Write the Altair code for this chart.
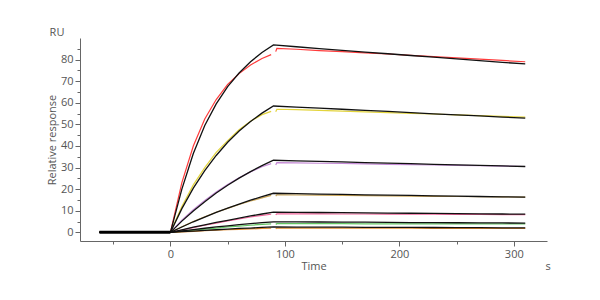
import altair as alt
import pandas as pd

# ---------------- data ----------------
series = ["c1", "c2", "c3", "c4", "c5", "c6", "c7"]
data_colors = ["#ff3b3b", "#e3d43c", "#c58ad6", "#c9a455", "#f0649a", "#62c462", "#e08a2e"]

t_baseline = [-62, 0]
v_baseline = [0, 0]

# fitted curves (black)
t_fit_assoc = [0, 10, 20, 30, 40, 50, 60, 70, 80, 90]
t_fit_diss = [110, 130, 150, 170, 190, 210, 230, 250, 270, 290, 310]
fit_assoc = [
    [0, 20, 36.5, 49.5, 59.5, 67.5, 73.8, 79, 83.3, 86.8],
    [0, 11.0, 20.5, 28.6, 35.6, 41.7, 46.9, 51.3, 55.2, 58.5],
    [0, 5.2, 9.9, 14.2, 18.2, 21.8, 25.1, 28.1, 30.9, 33.4],
    [0, 2.5, 4.9, 7.1, 9.3, 11.2, 13.1, 14.9, 16.5, 18.1],
    [0, 1.2, 2.4, 3.5, 4.6, 5.6, 6.6, 7.6, 8.5, 9.4],
    [0, 0.65, 1.3, 1.9, 2.5, 3.0, 3.6, 4.0, 4.5, 4.9],
    [0, 0.3, 0.6, 0.9, 1.2, 1.5, 1.8, 2.0, 2.3, 2.5],
]
fit_diss = [
    [85.95, 85.1, 84.3, 83.5, 82.7, 81.9, 81.1, 80.3, 79.5, 78.7, 78.0],
    [58.0, 57.5, 57.0, 56.5, 56.0, 55.4, 54.9, 54.4, 53.9, 53.4, 52.9],
    [33.1, 32.85, 32.6, 32.3, 32.05, 31.8, 31.5, 31.25, 31.0, 30.75, 30.5],
    [17.9, 17.75, 17.6, 17.4, 17.25, 17.1, 16.9, 16.75, 16.6, 16.45, 16.3],
    [9.3, 9.2, 9.1, 9.0, 8.9, 8.85, 8.75, 8.65, 8.55, 8.5, 8.4],
    [4.85, 4.8, 4.75, 4.7, 4.6, 4.55, 4.5, 4.45, 4.4, 4.35, 4.3],
    [2.45, 2.4, 2.4, 2.35, 2.3, 2.3, 2.25, 2.2, 2.15, 2.1, 2.1],
]

# measured curves (coloured)
t_data_assoc = [-62, 0, 10, 20, 30, 40, 50, 60, 70, 80, 88]
t_data_diss = [92, 93, 110, 130, 150, 170, 190, 210, 230, 250, 270, 290, 310]
data_assoc = [
    [0, 0, 23, 40, 52.5, 61.5, 68.5, 73.5, 77.5, 80.5, 82.3],
    [0, 0, 12, 22, 30, 37, 42.5, 47.5, 51.5, 54.5, 56.0],
    [0, 0, 5.6, 10.5, 14.8, 18.7, 22.2, 25.3, 28.0, 30.4, 31.8],
    [0, 0, 2.6, 5.0, 7.2, 9.3, 11.1, 12.9, 14.5, 16.0, 17.1],
    [0, 0, 1.1, 2.2, 3.3, 4.3, 5.3, 6.2, 7.1, 7.9, 8.4],
    [0, 0, 0.5, 1.0, 1.5, 2.0, 2.5, 2.9, 3.3, 3.7, 3.9],
    [0, 0, 0.25, 0.5, 0.75, 1.0, 1.2, 1.4, 1.6, 1.8, 1.9],
]
data_diss = [
    [83.7, 85.2, 84.8, 84.2, 83.7, 83.1, 82.6, 82.0, 81.4, 80.8, 80.2, 79.6, 79.0],
    [55.8, 57.0, 56.8, 56.5, 56.1, 55.8, 55.4, 55.1, 54.8, 54.4, 54.1, 53.7, 53.4],
    [31.2, 32.3, 32.2, 32.0, 31.9, 31.7, 31.5, 31.4, 31.2, 31.0, 30.9, 30.7, 30.5],
    [16.8, 17.4, 17.3, 17.2, 17.1, 17.0, 16.9, 16.8, 16.7, 16.6, 16.5, 16.4, 16.3],
    [8.1, 8.6, 8.6, 8.55, 8.5, 8.5, 8.45, 8.4, 8.4, 8.35, 8.3, 8.25, 8.2],
    [3.7, 4.0, 4.0, 4.0, 4.0, 3.95, 3.95, 3.95, 3.9, 3.9, 3.9, 3.9, 3.9],
    [1.7, 2.0, 2.0, 1.95, 1.95, 1.9, 1.9, 1.9, 1.85, 1.85, 1.8, 1.8, 1.8],
]

# tick positions (major labelled, minor unlabelled)
x_tick_values = [-50, 0, 50, 100, 150, 200, 250, 300]
y_tick_values = list(range(0, 90, 5))

# ---------------- tables ----------------
fit_rows = []
for i, s in enumerate(series):
    ts = [t_baseline[0]] + t_fit_assoc + t_fit_diss
    vs = [v_baseline[0]] + fit_assoc[i] + fit_diss[i]
    for t, v in zip(ts, vs):
        fit_rows.append({"series": s, "t": t, "v": v})
fit_df = pd.DataFrame(fit_rows)

data_rows = []
for i, s in enumerate(series):
    for t, v in zip(t_data_assoc, data_assoc[i]):
        data_rows.append({"series": s, "seg": s + "a", "t": t, "v": v})
    for t, v in zip(t_data_diss, data_diss[i]):
        data_rows.append({"series": s, "seg": s + "d", "t": t, "v": v})
data_df = pd.DataFrame(data_rows)

base_df = pd.DataFrame({"t": t_baseline, "v": v_baseline})

FONT = "Open Sans"
AX = "#666666"
LAB = "#555555"

x_scale = alt.Scale(domain=[-79, 329], nice=False, zero=False)
y_scale = alt.Scale(domain=[-4, 90], nice=False, zero=False)

x_axis = alt.Axis(
    title="Time",
    values=x_tick_values,
    labelExpr="datum.value % 100 === 0 ? datum.label : ''",
    tickSize={"condition": {"test": "datum.value % 100 === 0", "value": 5}, "value": 3},
    labelOverlap=False, labelBound=False, labelFlush=False,
    grid=False,
    domainColor=AX, tickColor=AX, labelColor=LAB, titleColor=LAB,
    labelFont=FONT, titleFont=FONT, labelFontSize=11, titleFontSize=11,
    titleFontWeight="normal", labelPadding=2, titlePadding=1,
)
y_axis = alt.Axis(
    title="Relative response",
    values=y_tick_values,
    labelExpr="datum.value % 10 === 0 ? datum.label : ''",
    tickSize={"condition": {"test": "datum.value % 10 === 0", "value": 5}, "value": 3},
    labelOverlap=False, labelBound=False, labelFlush=False,
    grid=False,
    domainColor=AX, tickColor=AX, labelColor=LAB, titleColor=LAB,
    labelFont=FONT, titleFont=FONT, labelFontSize=11, titleFontSize=11,
    titleFontWeight="normal", labelPadding=2, titlePadding=3,
)

X = alt.X("t:Q", scale=x_scale, axis=x_axis)
Y = alt.Y("v:Q", scale=y_scale, axis=y_axis)

data_layer = alt.Chart(data_df).mark_line(strokeWidth=1.2, clip=True).encode(
    x=X, y=Y,
    color=alt.Color("series:N", scale=alt.Scale(domain=series, range=data_colors), legend=None),
    detail="seg:N",
    order="t:Q",
)

fit_layer = alt.Chart(fit_df).mark_line(strokeWidth=1.3, color="#111111", clip=True).encode(
    x=X, y=Y,
    detail="series:N",
    order="t:Q",
)

base_layer = alt.Chart(base_df).mark_line(strokeWidth=3, color="#000000").encode(
    x=X, y=Y,
)

ru_layer = alt.Chart(pd.DataFrame({"label": ["RU"]})).mark_text(
    font=FONT, fontSize=11, color=LAB, align="center", baseline="middle"
).encode(text="label:N", x=alt.value(-23), y=alt.value(-5))
s_layer = alt.Chart(pd.DataFrame({"label": ["s"]})).mark_text(
    font=FONT, fontSize=11, color=LAB, align="center", baseline="middle"
).encode(text="label:N", x=alt.value(468), y=alt.value(229))

chart = alt.layer(data_layer, fit_layer, base_layer, ru_layer, s_layer).properties(
    width=467,
    height=203,
    autosize=alt.AutoSizeParams(type="none"),
    padding={"left": 80, "top": 38, "right": 53, "bottom": 59},
    background="white",
).configure_view(stroke=None)

chart.save("out.html", embed_options={"renderer": "svg", "actions": False})
